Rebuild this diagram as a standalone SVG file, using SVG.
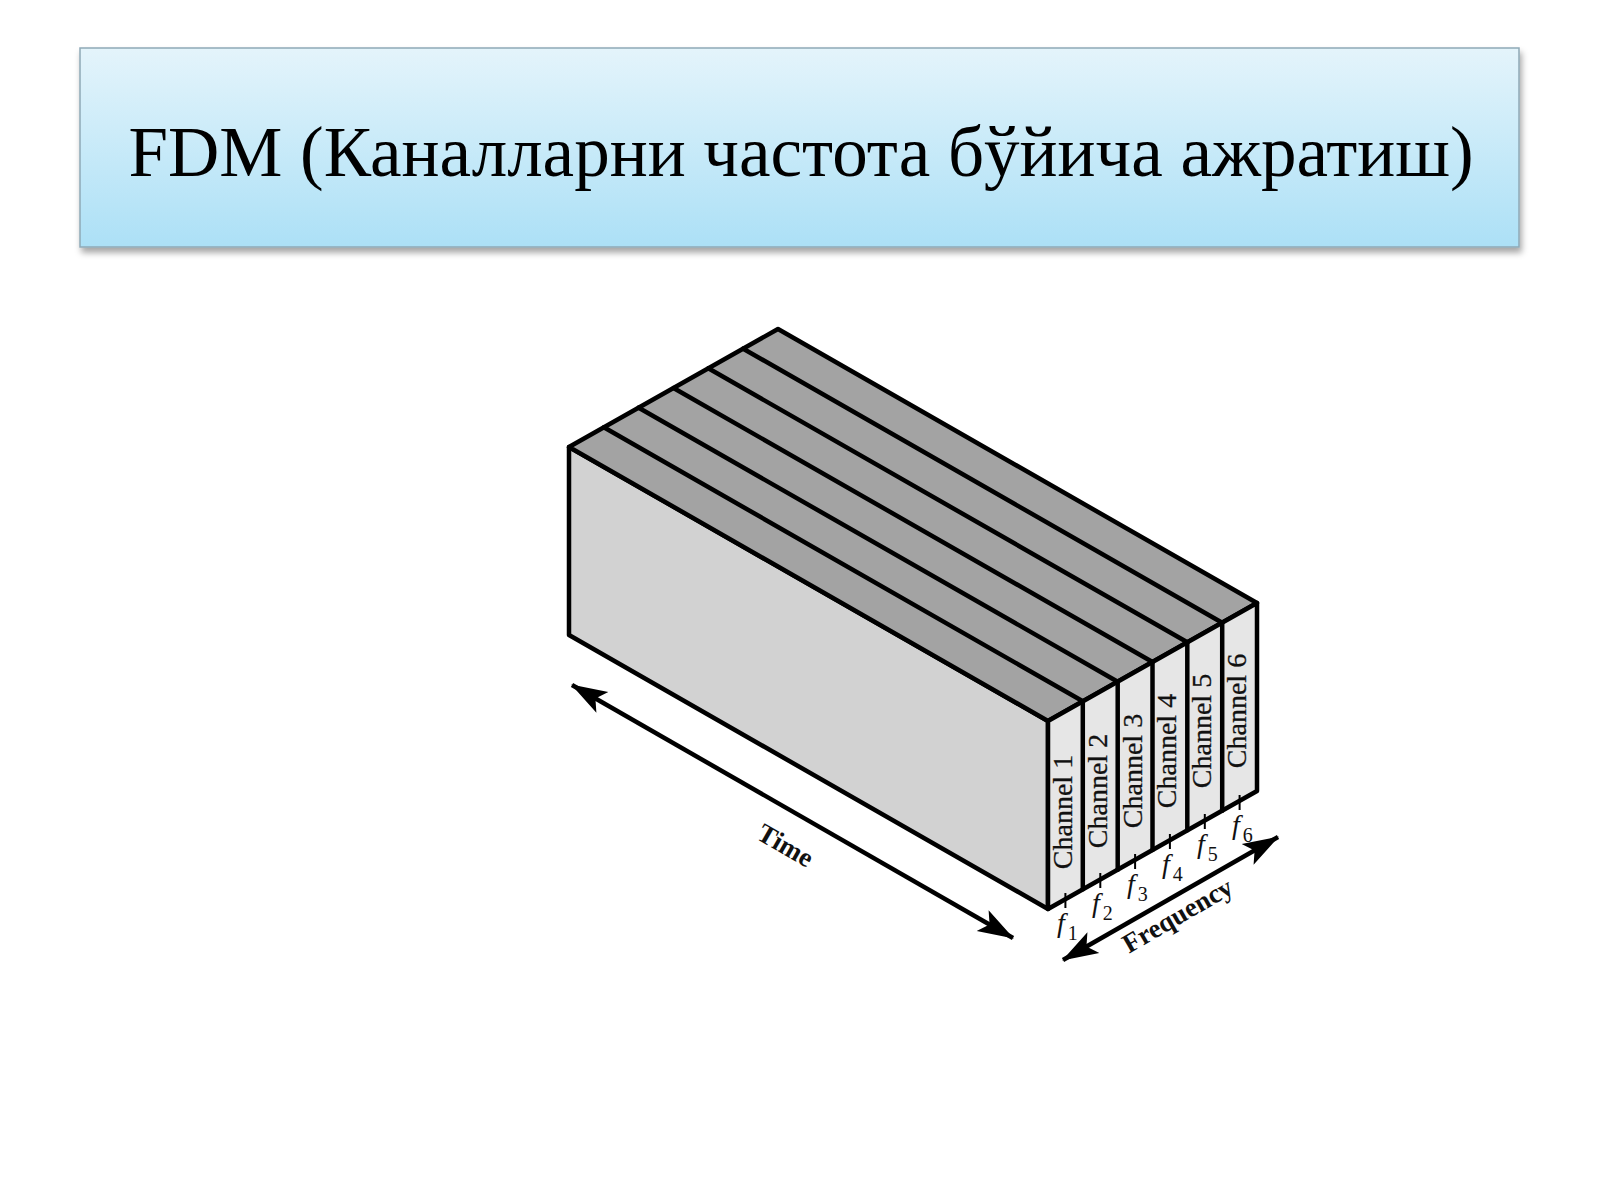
<svg xmlns="http://www.w3.org/2000/svg" width="1600" height="1200" viewBox="0 0 1600 1200">
  <defs>
    <linearGradient id="titleGrad" x1="0" y1="0" x2="0" y2="1">
      <stop offset="0" stop-color="#e4f4fb"/>
      <stop offset="1" stop-color="#ace0f6"/>
    </linearGradient>
    <filter id="shadow" x="-5%" y="-20%" width="110%" height="150%">
      <feDropShadow dx="2" dy="5" stdDeviation="3" flood-color="#000" flood-opacity="0.35"/>
    </filter>
    <marker id="head" viewBox="0 0 36 26" refX="35" refY="13" markerWidth="36" markerHeight="26" markerUnits="userSpaceOnUse" orient="auto-start-reverse">
      <path d="M0,1 L36,13 L0,25 L8,13 Z" fill="#000"/>
    </marker>
    <style>
      .edge { stroke:#000; stroke-width:4.5; stroke-linejoin:round; stroke-linecap:round; }
      .ch { font-family:"Liberation Serif","Times New Roman",serif; font-size:28px; fill:#111; text-anchor:middle; stroke:#111; stroke-width:0.3; }
      .f { font-family:"Liberation Serif","Times New Roman",serif; font-style:italic; font-size:28px; fill:#111; }
      .sub { font-family:"Liberation Serif","Times New Roman",serif; font-style:normal; font-size:20px; fill:#111; }
      .axis { font-family:"Liberation Serif","Times New Roman",serif; font-weight:bold; font-size:27px; fill:#111; text-anchor:middle; }
      .tick { stroke:#000; stroke-width:2; }
      .arrow { stroke:#000; stroke-width:4.5; fill:none; }
    </style>
  </defs>

  <rect width="1600" height="1200" fill="#ffffff"/>

  <g id="title">
    <rect x="80" y="48" width="1439" height="199" fill="url(#titleGrad)" stroke="#8fa9b6" stroke-width="1.5" filter="url(#shadow)"/>
    <text x="801" y="176" font-family="'Liberation Serif','Times New Roman',serif" font-size="71" fill="#000" text-anchor="middle">FDM (Каналларни частота бўйича ажратиш)</text>
  </g>

  <g id="block">
    <polygon class="edge" points="569,447 1048,721 1048,909 569,635" fill="#d2d2d2"/>
    <polygon class="edge" points="569,447 778,329 1257,603 1048,721" fill="#a3a3a3"/>
    <polygon class="edge" points="1048,721 1257,603 1257,791 1048,909" fill="#e6e6e6"/>
    <line class="edge" x1="603.8" y1="427.3" x2="1082.8" y2="701.3"/>
    <line class="edge" x1="638.7" y1="407.7" x2="1117.7" y2="681.7"/>
    <line class="edge" x1="673.5" y1="388" x2="1152.5" y2="662"/>
    <line class="edge" x1="708.3" y1="368.3" x2="1187.3" y2="642.3"/>
    <line class="edge" x1="743.2" y1="348.7" x2="1222.2" y2="622.7"/>
    <line class="edge" x1="1082.8" y1="701.3" x2="1082.8" y2="889.3"/>
    <line class="edge" x1="1117.7" y1="681.7" x2="1117.7" y2="869.7"/>
    <line class="edge" x1="1152.5" y1="662" x2="1152.5" y2="850"/>
    <line class="edge" x1="1187.3" y1="642.3" x2="1187.3" y2="830.3"/>
    <line class="edge" x1="1222.2" y1="622.7" x2="1222.2" y2="810.7"/>
  </g>

  <g id="channels">
    <text class="ch" transform="translate(1072,812) rotate(-90)">Channel 1</text>
    <text class="ch" transform="translate(1107,791) rotate(-90)">Channel 2</text>
    <text class="ch" transform="translate(1142,771) rotate(-90)">Channel 3</text>
    <text class="ch" transform="translate(1176,751) rotate(-90)">Channel 4</text>
    <text class="ch" transform="translate(1211,731) rotate(-90)">Channel 5</text>
    <text class="ch" transform="translate(1246,711) rotate(-90)">Channel 6</text>
  </g>

  <g id="frequency-ticks">
    <line class="tick" x1="1065.4" y1="893" x2="1065.4" y2="908"/>
    <line class="tick" x1="1100.3" y1="873" x2="1100.3" y2="888"/>
    <line class="tick" x1="1135.1" y1="854" x2="1135.1" y2="869"/>
    <line class="tick" x1="1169.9" y1="834" x2="1169.9" y2="849"/>
    <line class="tick" x1="1204.8" y1="814" x2="1204.8" y2="829"/>
    <line class="tick" x1="1239.6" y1="795" x2="1239.6" y2="810"/>
  </g>

  <g id="f-labels">
    <text class="f" x="1057" y="932">f<tspan class="sub" dx="3" dy="8">1</tspan></text>
    <text class="f" x="1092" y="912">f<tspan class="sub" dx="3" dy="8">2</tspan></text>
    <text class="f" x="1127" y="893">f<tspan class="sub" dx="3" dy="8">3</tspan></text>
    <text class="f" x="1162" y="873">f<tspan class="sub" dx="3" dy="8">4</tspan></text>
    <text class="f" x="1197" y="853">f<tspan class="sub" dx="3" dy="8">5</tspan></text>
    <text class="f" x="1232" y="834">f<tspan class="sub" dx="3" dy="8">6</tspan></text>
  </g>

  <g id="connectors">
    <line class="arrow" x1="572" y1="685" x2="1013" y2="938" marker-start="url(#head)" marker-end="url(#head)"/>
    <line class="arrow" x1="1063" y1="960" x2="1278" y2="837" marker-start="url(#head)" marker-end="url(#head)"/>
  </g>

  <g id="axis-labels">
    <text class="axis" transform="translate(781,853) rotate(30)">Time</text>
    <text class="axis" transform="translate(1182,923) rotate(-30)">Frequency</text>
  </g>
</svg>
